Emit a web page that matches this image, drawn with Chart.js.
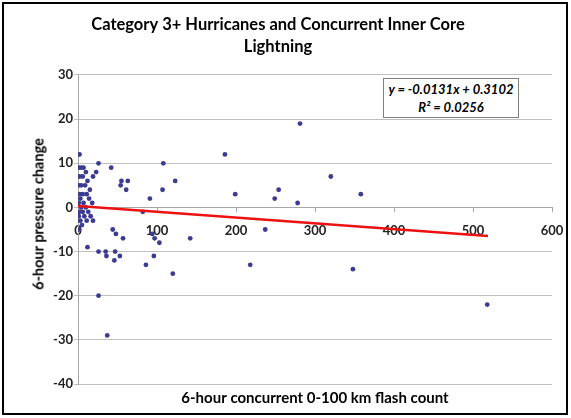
<!DOCTYPE html>
<html>
<head>
<meta charset="utf-8">
<script src="https://cdn.jsdelivr.net/npm/chart.js@4.4.1/dist/chart.umd.min.js"></script>
<style>
  html, body { margin: 0; padding: 0; background: #fff; }
  #frame { position: absolute; left: 2px; top: 2px; width: 562px; height: 409px; border: 2px solid #000; background: #fff; }
  #c { position: absolute; left: 0; top: 0; }
  #ytitle { position: absolute; left: 33.5px; top: 210px; transform: translate(-50%, -50%) rotate(-90deg); white-space: nowrap;
            font: bold 14.5px Lato, "Open Sans", sans-serif; color: #000; }
  #eq { position: absolute; left: 379px; top: 74px; width: 134px; height: 37px; border: 1px solid #7f7f7f; background: #fff;
        font: italic bold 13px Lato, "Open Sans", sans-serif; color: #000; text-align: center; line-height: 18px; padding-top: 1px; box-sizing: content-box; }
</style>
</head>
<body>
<div id="frame">
  <canvas id="c" width="562" height="409"></canvas>
  <div id="ytitle">6-hour pressure change</div>
  <div id="eq">y = -0.0131x + 0.3102<br>R² = 0.0256</div>
</div>
<script>
// ---- data ----
const titleLines = ["Category 3+ Hurricanes and Concurrent Inner Core", "Lightning"];
const xAxisTitle = "6-hour concurrent 0-100 km flash count";
const flashCounts = [
  2, 26, 42, 1, 4, 7, 10, 2, 6, 19, 23, 12, 1, 4, 9, 15, 2, 6, 11, 3,
  14, 18, 1, 7, 4, 10, 2, 6, 13, 1, 8, 16, 3, 11, 19, 5, 1, 12, 26, 35,
  36, 47, 46, 53, 86, 96, 26, 37, 44, 48, 57, 94, 97, 103, 82, 91, 55, 63, 54, 61,
  107, 108, 123, 142, 120, 218, 237, 348, 518, 186, 281, 199, 254, 249, 278, 320, 358
];
const pressureChanges = [
  12, 10, 9, 9, 9, 9, 8, 7, 7, 7, 8, 6, 5, 5, 5, 4, 3, 3, 3, 2,
  2, 1, 1, 1, 0, 0, -1, -1, -1, -2, -2, -2, -3, -3, -3, -4, -5, -9, -10, -10,
  -11, -10, -12, -11, -13, -11, -20, -29, -5, -6, -7, -6, -7, -8, -1, 2, 6, 6, 5, 4,
  4, 10, 6, -7, -15, -13, -5, -14, -22, 12, 19, 3, 4, 2, 1, 7, 3
];
const trendX = [0, 519];
const trendY = [0.31, -6.49];
const xTicks = [0, 100, 200, 300, 400, 500, 600];
const yTicks = [30, 20, 10, 0, -10, -20, -30, -40];

const points = flashCounts.map((x, i) => ({ x: x, y: pressureChanges[i] }));
const trend = trendX.map((x, i) => ({ x: x, y: trendY[i] }));

const tickFont = { family: "Lato, 'Open Sans', sans-serif", size: 13, weight: 'bold' };

new Chart(document.getElementById('c'), {
  type: 'scatter',
  data: {
    datasets: [
      {
        type: 'line', label: 'Trend', data: trend, borderColor: '#ee1111', borderWidth: 2.5,
        pointRadius: 0, fill: false, order: 0, tension: 0
      },
      {
        label: 'Data', data: points, backgroundColor: '#3b3b8f', borderColor: '#3b3b8f', borderWidth: 0,
        pointRadius: 2.4, order: 1
      }
    ]
  },
  options: {
    responsive: false,
    animation: false,
    events: [],
    layout: { padding: { left: 0, right: 14, top: 0, bottom: 4 } },
    plugins: {
      legend: { display: false },
      tooltip: { enabled: false },
      title: {
        display: true, text: titleLines, color: '#000',
        font: { family: "Lato, 'Open Sans', sans-serif", size: 16.5, weight: 'bold', lineHeight: 1.333 },
        padding: { top: 10, bottom: 17 }
      },
      subtitle: {
        display: true, text: xAxisTitle, position: 'bottom', fullSize: false, color: '#000',
        font: { family: "Lato, 'Open Sans', sans-serif", size: 15, weight: 'bold', lineHeight: 1.2 },
        padding: { top: 5, bottom: 2 }
      }
    },
    scales: {
      x: {
        type: 'linear', position: { y: 0 }, min: 0, max: 600,
        afterBuildTicks: (s) => { s.ticks = xTicks.map(v => ({ value: v })); },
        afterFit: (s) => { s.paddingLeft = 0; s.paddingRight = 0; },
        grid: { drawOnChartArea: false, drawTicks: true, tickLength: 4, color: '#a6a6a6' },
        border: { display: true, color: '#a6a6a6', width: 1 },
        ticks: { font: tickFont, color: '#222', padding: 12, maxRotation: 0, autoSkip: false }
      },
      y: {
        type: 'linear', position: 'left', min: -40, max: 30,
        afterBuildTicks: (s) => { s.ticks = yTicks.map(v => ({ value: v })); },
        afterFit: (s) => { s.width = 74; },
        grid: { color: '#c0c0c0', lineWidth: 1, drawTicks: true, tickLength: 4 },
        border: { display: true, color: '#a6a6a6', width: 1 },
        ticks: { font: tickFont, color: '#222', padding: 1 }
      }
    }
  }
});
</script>
</body>
</html>
